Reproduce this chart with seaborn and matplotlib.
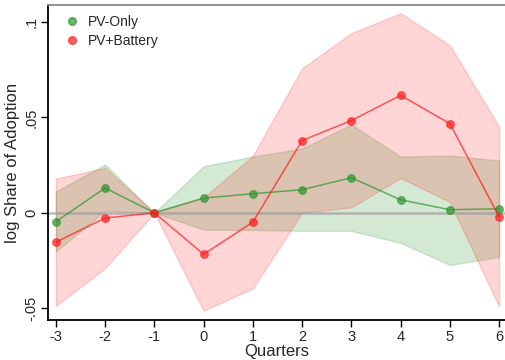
import matplotlib
matplotlib.use("Agg")
import matplotlib.pyplot as plt
from matplotlib.lines import Line2D
import numpy as np
import pandas as pd
import seaborn as sns

# Event-study estimates by quarter relative to the policy change
quarters = [-3, -2, -1, 0, 1, 2, 3, 4, 5, 6]

pv_only = [-0.0047, 0.0130, 0.0, 0.0077, 0.0100, 0.0121, 0.0184, 0.0068, 0.0016, 0.0021]
pv_only_lo = [-0.0204, 0.0010, 0.0, -0.0089, -0.0090, -0.0095, -0.0095, -0.0158, -0.0274, -0.0232]
pv_only_hi = [0.0112, 0.0253, 0.0, 0.0244, 0.0295, 0.0337, 0.0463, 0.0295, 0.0300, 0.0274]

pv_batt = [-0.0154, -0.0028, 0.0, -0.0218, -0.0049, 0.0379, 0.0484, 0.0616, 0.0468, -0.0021]
pv_batt_lo = [-0.0488, -0.0291, 0.0, -0.0514, -0.0397, 0.0000, 0.0028, 0.0182, 0.0057, -0.0492]
pv_batt_hi = [0.0179, 0.0235, 0.0, 0.0080, 0.0298, 0.0758, 0.0942, 0.1047, 0.0879, 0.0453]

series_names = ["PV-Only", "PV+Battery"]
y_ticks = [-0.05, 0.0, 0.05, 0.1]
y_tick_labels = ["-.05", "0", ".05", ".1"]

GREEN = "#2c952c"
RED = "#ff1a1a"

sns.set_theme(style="white")
plt.rcParams["font.family"] = ["Liberation Sans", "DejaVu Sans"]

df = pd.DataFrame({
    "Quarters": quarters * 2,
    "est": pv_only + pv_batt,
    "lo": pv_only_lo + pv_batt_lo,
    "hi": pv_only_hi + pv_batt_hi,
    "series": [series_names[0]] * len(quarters) + [series_names[1]] * len(quarters),
})

fig = plt.figure(figsize=(5.05, 3.6), dpi=100)
ax = fig.add_axes([0.095, 0.111, 0.905, 0.875])

palette = {series_names[0]: GREEN, series_names[1]: RED}
band_alpha = {series_names[0]: 0.2, series_names[1]: 0.18}

# Confidence bands
for name in series_names:
    sub = df[df["series"] == name]
    ax.fill_between(sub["Quarters"], sub["lo"], sub["hi"], color=palette[name],
                    alpha=band_alpha[name], linewidth=1.0, edgecolor=palette[name])

# Zero reference line
ax.axhline(0, color="#999999", alpha=0.6, linewidth=2, zorder=1)

# Point estimates
sns.lineplot(data=df, x="Quarters", y="est", hue="series", palette=palette,
             marker="o", markersize=5.5, linewidth=1.1, alpha=0.7,
             legend=False, ax=ax, zorder=3)
for ln in ax.get_lines():
    if ln.get_marker() == "o":
        ln.set_markeredgecolor(ln.get_color())
        ln.set_markeredgewidth(0.8)

ax.set_xlim(-3.16, 6.12)
ax.set_ylim(-0.0563, 0.109)
ax.set_xticks(quarters)
ax.set_xticklabels([str(q) for q in quarters], fontsize=10.5)
ax.set_yticks(y_ticks)
ax.set_yticklabels(y_tick_labels, fontsize=10.5, rotation=90, va="center")
ax.tick_params(axis="both", direction="out", length=5, width=1, color="black",
               pad=2, bottom=True, left=True)
ax.set_xlabel("Quarters", fontsize=12, labelpad=0)
ax.set_ylabel("log Share of Adoption", fontsize=12, labelpad=3)

for side in ["left", "bottom"]:
    ax.spines[side].set_color("black")
    ax.spines[side].set_linewidth(1.3)
ax.spines["top"].set_color("#888888")
ax.spines["top"].set_linewidth(1.3)
ax.spines["right"].set_visible(False)

handles = [Line2D([], [], linestyle="none", marker="o", markersize=5.5,
                  color=palette[n], alpha=0.7) for n in series_names]
ax.legend(handles, series_names, loc="upper left", frameon=False, fontsize=10,
          handletextpad=0.2, borderaxespad=0.3, labelspacing=0.35,
          bbox_to_anchor=(0.0, 1.0))

fig.savefig("out.png", dpi=100)
